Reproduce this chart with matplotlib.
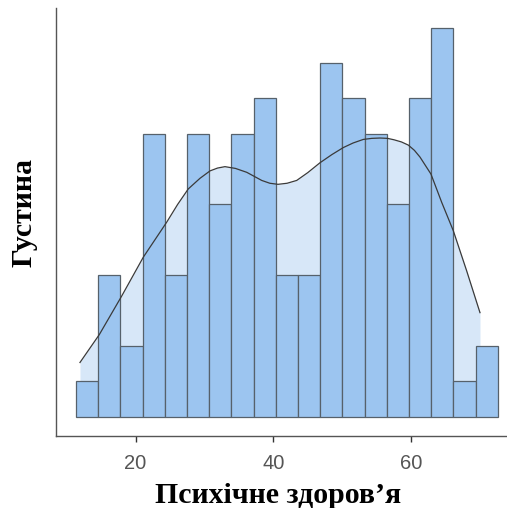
import numpy as np
import matplotlib
matplotlib.use("Agg")
import matplotlib.pyplot as plt

# histogram of scores (counts per bin)
bin_edges = [11.35, 14.57, 17.80, 21.02, 24.25, 27.47, 30.69, 33.92, 37.14, 40.37,
             43.59, 46.81, 50.04, 53.26, 56.49, 59.71, 62.93, 66.16, 69.38, 72.61]
counts = [1, 4, 2, 8, 4, 8, 6, 8, 9, 4, 4, 10, 9, 8, 6, 9, 11, 1, 2]

# density curve, scaled to the count axis
kde_x = [11.92, 14.73, 17.98, 21.12, 24.52, 26.10, 27.65, 29.35, 30.81, 31.90,
         32.98, 34.50, 36.14, 38.32, 39.50, 40.68, 42.00, 43.40, 45.00, 46.78,
         48.50, 50.17, 51.60, 53.07, 54.30, 55.50, 56.60, 57.53, 58.60, 59.61,
         60.50, 61.31, 62.90, 64.46, 66.14, 68.09, 70.02]
kde_y = [1.53, 2.32, 3.41, 4.51, 5.50, 6.00, 6.44, 6.74, 6.95, 7.03,
         7.07, 7.02, 6.91, 6.68, 6.60, 6.57, 6.60, 6.68, 6.90, 7.18,
         7.41, 7.61, 7.74, 7.84, 7.87, 7.88, 7.87, 7.83, 7.77, 7.68,
         7.53, 7.34, 6.86, 6.06, 5.26, 4.12, 2.94]

xticks = [20, 40, 60]
xlabel = "Психічне здоров’я"
ylabel = "Густина"

fig = plt.figure(figsize=(5.07, 5.08), dpi=100)
ax = fig.add_axes([0.1105, 0.1417, 0.9128, 0.842])

edges = np.array(bin_edges)
ax.fill_between(kde_x, 0, kde_y, color="#d7e7f8", linewidth=0, zorder=1)
ax.bar(edges[:-1], counts, width=np.diff(edges), align="edge",
       color="#9cc5f0", edgecolor="#56616b", linewidth=0.9, zorder=2)
ax.plot(kde_x, kde_y, color="#3a3a3a", linewidth=0.9, zorder=3)

ax.set_xlim(8.44, 75.66)
ax.set_ylim(-0.55, 11.55)
ax.set_xticks(xticks)
ax.set_yticks([])
ax.tick_params(axis="x", length=4.3, width=1, color="#333333", pad=9,
               labelsize=14.5, labelcolor="#555555")
for lbl in ax.get_xticklabels():
    lbl.set_fontfamily("Liberation Sans")

for side in ("top", "right"):
    ax.spines[side].set_visible(False)
for side in ("left", "bottom"):
    ax.spines[side].set_color("#555555")
    ax.spines[side].set_linewidth(1.0)

fig.text(278 / 507, (508 - 503.3) / 508, xlabel, ha="center", va="baseline",
         family="Liberation Serif", weight="bold", fontsize=21.5)
fig.text(24 / 507, 1 - 212.5 / 508, ylabel, ha="center", va="center", rotation=90,
         family="Liberation Serif", weight="bold", fontsize=21.5)

fig.savefig("out.png", dpi=100)
